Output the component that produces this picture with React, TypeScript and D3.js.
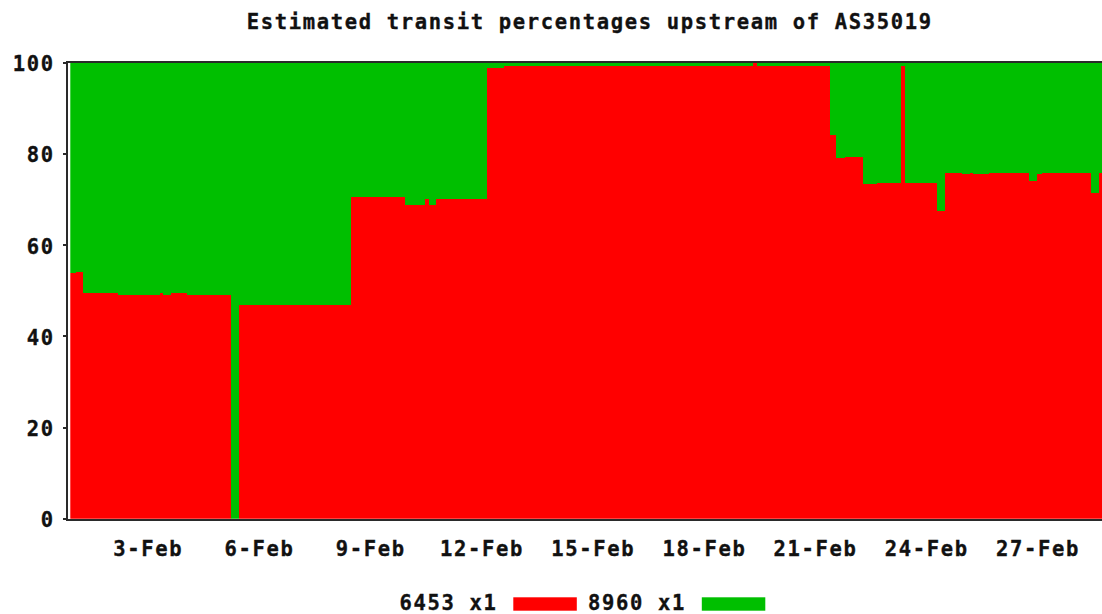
import React, { useEffect } from "react";
import * as d3 from "d3";

// ---- data ----
const chartTitle = "Estimated transit percentages upstream of AS35019";
const seriesKeys = ["6453", "8960"];
const legendLabels = ["6453 x1", "8960 x1"];
const seriesColors = ["#ff0000", "#00bf00"];

// start time of each sample (UTC)
const sampleTimes = [
  "2011-01-31T22:00", "2011-02-01T02:00", "2011-02-01T06:00", "2011-02-02T05:00",
  "2011-02-03T08:00", "2011-02-03T10:00", "2011-02-03T15:00", "2011-02-04T01:30",
  "2011-02-05T06:00", "2011-02-05T11:00", "2011-02-08T12:00", "2011-02-09T23:00",
  "2011-02-10T11:30", "2011-02-10T14:00", "2011-02-10T19:00", "2011-02-12T04:00",
  "2011-02-12T15:00", "2011-02-19T08:00", "2011-02-19T10:30", "2011-02-21T10:00",
  "2011-02-21T14:00", "2011-02-21T19:30", "2011-02-22T07:00", "2011-02-22T16:00",
  "2011-02-23T07:30", "2011-02-23T10:30", "2011-02-24T07:00", "2011-02-24T12:00",
  "2011-02-24T23:00", "2011-02-25T04:30", "2011-02-25T06:30", "2011-02-25T17:00",
  "2011-02-26T19:00", "2011-02-27T00:00", "2011-02-27T03:00", "2011-02-28T11:00",
  "2011-02-28T16:00",
];
const endTime = "2011-02-28T21:00";

// share of AS6453 (red)
const share6453 = [
  53.9, 54.2, 49.5, 49.1, 49.5, 49.1, 49.5, 49.0,
  0.0, 46.9, 70.6, 68.8, 70.1, 68.8, 70.1, 98.8,
  99.3, 100.0, 99.3, 84.1, 79.0, 79.3, 73.3, 73.6,
  99.3, 73.6, 67.5, 75.8, 75.5, 75.8, 75.5, 75.8,
  74.0, 75.5, 75.8, 71.5, 75.8,
];
// share of AS8960 (green)
const share8960 = [
  46.1, 45.8, 50.5, 50.9, 50.5, 50.9, 50.5, 51.0,
  100.0, 53.1, 29.4, 31.2, 29.9, 31.2, 29.9, 1.2,
  0.7, 0.0, 0.7, 15.9, 21.0, 20.7, 26.7, 26.4,
  0.7, 26.4, 32.5, 24.2, 24.5, 24.2, 24.5, 24.2,
  26.0, 24.5, 24.2, 28.5, 24.2,
];

const xTickDays = [3, 6, 9, 12, 15, 18, 21, 24, 27];
const yTickValues = [0, 20, 40, 60, 80, 100];

// ---- layout ----
const W = 1102;
const H = 614;
const plotLeft = 70.3;
const plotTop = 62.7;
const plotBottom = 518.7;
const FONT = "'DejaVu Sans Mono', monospace";
const FS = 20.5;
const LS = 14 - FS * 0.602;

export default function App() {
  useEffect(() => {
    document.body.style.margin = "0";
  }, []);

  const parse = d3.utcParse("%Y-%m-%dT%H:%M");
  const times = sampleTimes.map((s) => parse(s) as Date);
  const tEnd = parse(endTime) as Date;

  const rows = times.map((t, i) => ({ t, "6453": share6453[i], "8960": share8960[i] }));
  rows.push({ t: tEnd, "6453": share6453[share6453.length - 1], "8960": share8960[share8960.length - 1] });

  const x = d3
    .scaleUtc()
    .domain([new Date(Date.UTC(2011, 1, 1)), new Date(Date.UTC(2011, 1, 28))])
    .range([73.4, 73.4 + 27 * 37.07]);
  const y = d3.scaleLinear().domain([0, 100]).range([plotBottom, plotTop]);

  const stack = d3.stack<any>().keys(seriesKeys);
  const layers = stack(rows as any);

  const area = d3
    .area<any>()
    .x((d) => x(d.data.t))
    .y0((d) => y(d[0]))
    .y1((d) => y(d[1]))
    .curve(d3.curveStepAfter);

  const fmt = d3.utcFormat("%-d-%b");

  const textProps = {
    fontFamily: FONT,
    fontWeight: "bold" as const,
    fontSize: FS,
    letterSpacing: LS,
    fill: "#111",
    stroke: "#111",
    strokeWidth: 0.35,
  };

  return (
    <svg width={W} height={H} style={{ display: "block", position: "absolute", left: 0, top: 0 }}>
      <rect x={0} y={0} width={W} height={H} fill="#ffffff" />
      <defs>
        <clipPath id="plotclip">
          <rect x={plotLeft} y={plotTop - 1} width={W - plotLeft} height={plotBottom - plotTop + 1} />
        </clipPath>
      </defs>
      <g clipPath="url(#plotclip)" shapeRendering="crispEdges">
        {layers.map((layer, i) => (
          <path key={seriesKeys[i]} d={area(layer as any) || ""} fill={seriesColors[i]} />
        ))}
      </g>

      {/* frame */}
      <g stroke="#2a2a2a" strokeWidth={2} shapeRendering="crispEdges">
        <line x1={67} x2={67} y1={61.7} y2={519.7} />
        <line x1={66} x2={W} y1={61.7} y2={61.7} />
        <line x1={66} x2={W} y1={519.7} y2={519.7} />
        {yTickValues.map((v) => (
          <line key={v} x1={63} x2={67} y1={y(v)} y2={y(v)} />
        ))}
      </g>

      {/* title */}
      <text x={589 + LS / 2} y={28.5} textAnchor="middle" {...textProps}>
        {chartTitle}
      </text>

      {/* y labels */}
      {yTickValues.map((v) => (
        <text key={v} x={53 + LS} y={y(v) + 8.5} textAnchor="end" {...textProps}>
          {v}
        </text>
      ))}

      {/* x labels */}
      {xTickDays.map((d) => {
        const dt = new Date(Date.UTC(2011, 1, d));
        return (
          <text key={d} x={x(dt) + LS / 2} y={556} textAnchor="middle" {...textProps}>
            {fmt(dt)}
          </text>
        );
      })}

      {/* legend */}
      {legendLabels.map((lab, i) => {
        const x0 = 400 + i * 188.5;
        return (
          <g key={lab}>
            <text x={x0 - 0.5} y={609.5} {...textProps}>
              {lab}
            </text>
            <rect x={x0 + 113.3} y={597.3} width={63.5} height={13.4} fill={seriesColors[i]} />
          </g>
        );
      })}
    </svg>
  );
}
